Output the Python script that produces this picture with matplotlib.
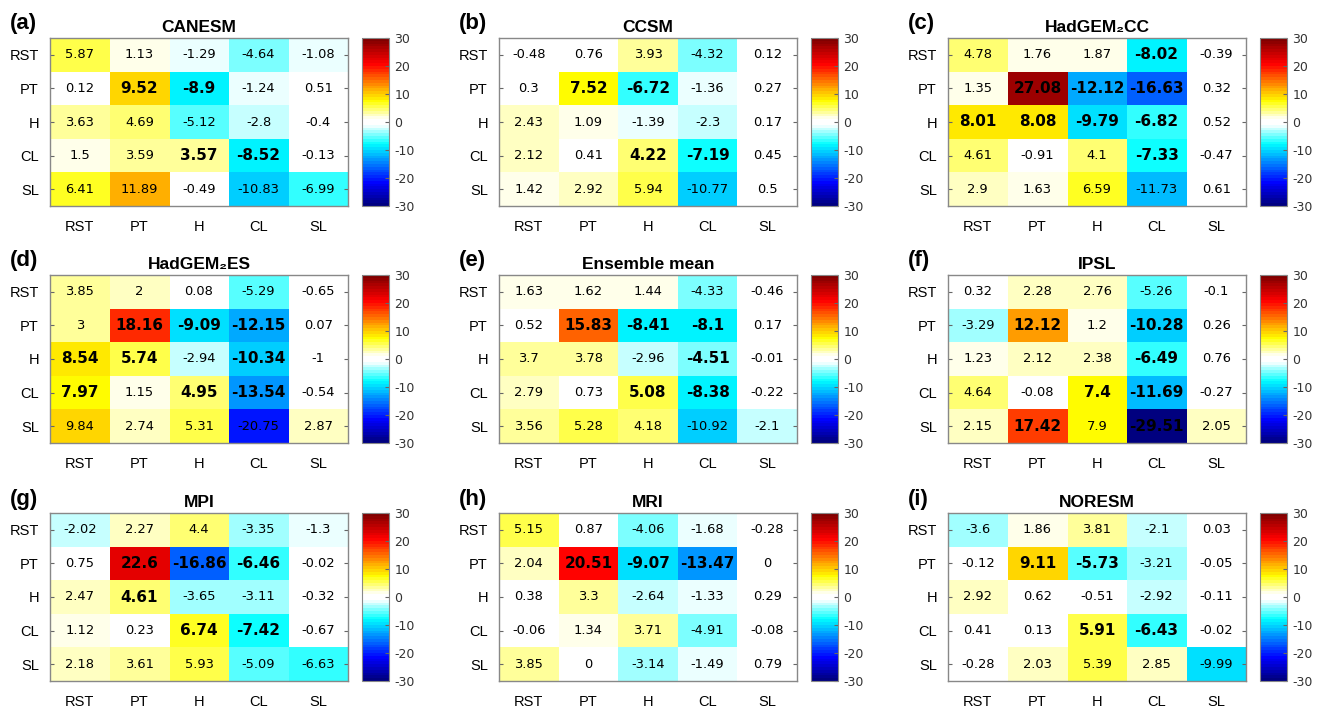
import numpy as np
import matplotlib
matplotlib.use("Agg")
import matplotlib.pyplot as plt
from matplotlib.colors import LinearSegmentedColormap

plt.rcParams["axes.unicode_minus"] = False

# categories (rows / columns)
cats = ["RST", "PT", "H", "CL", "SL"]

# panel titles
titles = ["CANESM", "CCSM", "HadGEM\u2082CC", "HadGEM\u2082ES", "Ensemble mean",
          "IPSL", "MPI", "MRI", "NORESM"]
letters = ["(a)", "(b)", "(c)", "(d)", "(e)", "(f)", "(g)", "(h)", "(i)"]

canesm = [[5.87, 1.13, -1.29, -4.64, -1.08],
          [0.12, 9.52, -8.9, -1.24, 0.51],
          [3.63, 4.69, -5.12, -2.8, -0.4],
          [1.5, 3.59, 3.57, -8.52, -0.13],
          [6.41, 11.89, -0.49, -10.83, -6.99]]
ccsm = [[-0.48, 0.76, 3.93, -4.32, 0.12],
        [0.3, 7.52, -6.72, -1.36, 0.27],
        [2.43, 1.09, -1.39, -2.3, 0.17],
        [2.12, 0.41, 4.22, -7.19, 0.45],
        [1.42, 2.92, 5.94, -10.77, 0.5]]
hadgem_cc = [[4.78, 1.76, 1.87, -8.02, -0.39],
             [1.35, 27.08, -12.12, -16.63, 0.32],
             [8.01, 8.08, -9.79, -6.82, 0.52],
             [4.61, -0.91, 4.1, -7.33, -0.47],
             [2.9, 1.63, 6.59, -11.73, 0.61]]
hadgem_es = [[3.85, 2, 0.08, -5.29, -0.65],
             [3, 18.16, -9.09, -12.15, 0.07],
             [8.54, 5.74, -2.94, -10.34, -1],
             [7.97, 1.15, 4.95, -13.54, -0.54],
             [9.84, 2.74, 5.31, -20.75, 2.87]]
ensemble = [[1.63, 1.62, 1.44, -4.33, -0.46],
            [0.52, 15.83, -8.41, -8.1, 0.17],
            [3.7, 3.78, -2.96, -4.51, -0.01],
            [2.79, 0.73, 5.08, -8.38, -0.22],
            [3.56, 5.28, 4.18, -10.92, -2.1]]
ipsl = [[0.32, 2.28, 2.76, -5.26, -0.1],
        [-3.29, 12.12, 1.2, -10.28, 0.26],
        [1.23, 2.12, 2.38, -6.49, 0.76],
        [4.64, -0.08, 7.4, -11.69, -0.27],
        [2.15, 17.42, 7.9, -29.51, 2.05]]
mpi = [[-2.02, 2.27, 4.4, -3.35, -1.3],
       [0.75, 22.6, -16.86, -6.46, -0.02],
       [2.47, 4.61, -3.65, -3.11, -0.32],
       [1.12, 0.23, 6.74, -7.42, -0.67],
       [2.18, 3.61, 5.93, -5.09, -6.63]]
mri = [[5.15, 0.87, -4.06, -1.68, -0.28],
       [2.04, 20.51, -9.07, -13.47, 0],
       [0.38, 3.3, -2.64, -1.33, 0.29],
       [-0.06, 1.34, 3.71, -4.91, -0.08],
       [3.85, 0, -3.14, -1.49, 0.79]]
noresm = [[-3.6, 1.86, 3.81, -2.1, 0.03],
          [-0.12, 9.11, -5.73, -3.21, -0.05],
          [2.92, 0.62, -0.51, -2.92, -0.11],
          [0.41, 0.13, 5.91, -6.43, -0.02],
          [-0.28, 2.03, 5.39, 2.85, -9.99]]

# bold (highlighted) cells, 1 = bold
bold_a = [[0,0,0,0,0],[0,1,1,0,0],[0,0,0,0,0],[0,0,1,1,0],[0,0,0,0,0]]
bold_b = [[0,0,0,0,0],[0,1,1,0,0],[0,0,0,0,0],[0,0,1,1,0],[0,0,0,0,0]]
bold_c = [[0,0,0,1,0],[0,1,1,1,0],[1,1,1,1,0],[0,0,0,1,0],[0,0,0,0,0]]
bold_d = [[0,0,0,0,0],[0,1,1,1,0],[1,1,0,1,0],[1,0,1,1,0],[0,0,0,0,0]]
bold_e = [[0,0,0,0,0],[0,1,1,1,0],[0,0,0,1,0],[0,0,1,1,0],[0,0,0,0,0]]
bold_f = [[0,0,0,0,0],[0,1,0,1,0],[0,0,0,1,0],[0,0,1,1,0],[0,1,0,1,0]]
bold_g = [[0,0,0,0,0],[0,1,1,1,0],[0,1,0,0,0],[0,0,1,1,0],[0,0,0,0,0]]
bold_h = [[0,0,0,0,0],[0,1,1,1,0],[0,0,0,0,0],[0,0,0,0,0],[0,0,0,0,0]]
bold_i = [[0,0,0,0,0],[0,1,1,0,0],[0,0,0,0,0],[0,0,1,1,0],[0,0,0,0,0]]

panels = [canesm, ccsm, hadgem_cc, hadgem_es, ensemble, ipsl, mpi, mri, noresm]
bolds = [bold_a, bold_b, bold_c, bold_d, bold_e, bold_f, bold_g, bold_h, bold_i]

# jet-like colormap with a white band around zero
vmin, vmax = -30, 30
stops = [(-30, (0.0, 0.0, 0.5)), (-22, (0.0, 0.0, 1.0)), (-8, (0.0, 1.0, 1.0)),
         (-1, (1.0, 1.0, 1.0)), (1, (1.0, 1.0, 1.0)), (7.5, (1.0, 1.0, 0.0)),
         (21, (1.0, 0.0, 0.0)), (30, (0.5, 0.0, 0.0))]
cmap = LinearSegmentedColormap.from_list(
    "jetwhite", [((v - vmin) / (vmax - vmin), c) for v, c in stops], N=60)

W, H = 1324, 710
fig = plt.figure(figsize=(W / 100, H / 100), dpi=100)

def px(x0, y0, x1, y1):
    return [x0 / W, 1 - y1 / H, (x1 - x0) / W, (y1 - y0) / H]

col_left = [50, 499, 948]
row_top = [38, 275, 513]
hm_w, hm_h = 298, 168
sans = ["Liberation Sans", "DejaVu Sans"]

for k, (vals, bmask) in enumerate(zip(panels, bolds)):
    r, c = divmod(k, 3)
    x0, y0 = col_left[c], row_top[r]
    ax = fig.add_axes(px(x0, y0, x0 + hm_w, y0 + hm_h))
    data = np.array(vals)
    im = ax.imshow(data, cmap=cmap, vmin=vmin, vmax=vmax, aspect="auto",
                   interpolation="nearest")
    for i in range(5):
        for j in range(5):
            b = bmask[i][j]
            ax.text(j, i, f"{data[i, j]:g}", ha="center", va="center",
                    fontsize=11 if b else 9.4,
                    fontweight="bold" if b else "normal",
                    family="DejaVu Sans", color="black")
    ax.set_xticks(range(5))
    ax.set_yticks(range(5))
    ax.set_xticklabels(cats, family=sans, fontsize=10.5)
    ax.set_yticklabels(cats, family=sans, fontsize=10.5)
    ax.tick_params(axis="y", direction="in", length=3, left=True, right=True,
                   pad=8, color="#666666")
    ax.tick_params(axis="x", length=0, pad=10)
    for s in ax.spines.values():
        s.set_color("#888888")
        s.set_linewidth(1.0)
    ax.set_title(titles[k], fontsize=12.5, fontweight="bold", family=sans, pad=4)
    fig.text((x0 - 40) / W, 1 - (y0 - 14) / H, letters[k], fontsize=16,
             fontweight="bold", family=sans, ha="left", va="center")

    cax = fig.add_axes(px(x0 + 312, y0, x0 + 339, y0 + hm_h))
    cb = fig.colorbar(im, cax=cax, ticks=[-30, -20, -10, 0, 10, 20, 30])
    cb.ax.tick_params(labelsize=9, direction="in", length=3, color="#666666",
                      labelcolor="#333333", pad=4)
    for t in cb.ax.get_yticklabels():
        t.set_family("DejaVu Sans")
    cb.outline.set_edgecolor("#888888")

fig.savefig("out.png", dpi=100)
